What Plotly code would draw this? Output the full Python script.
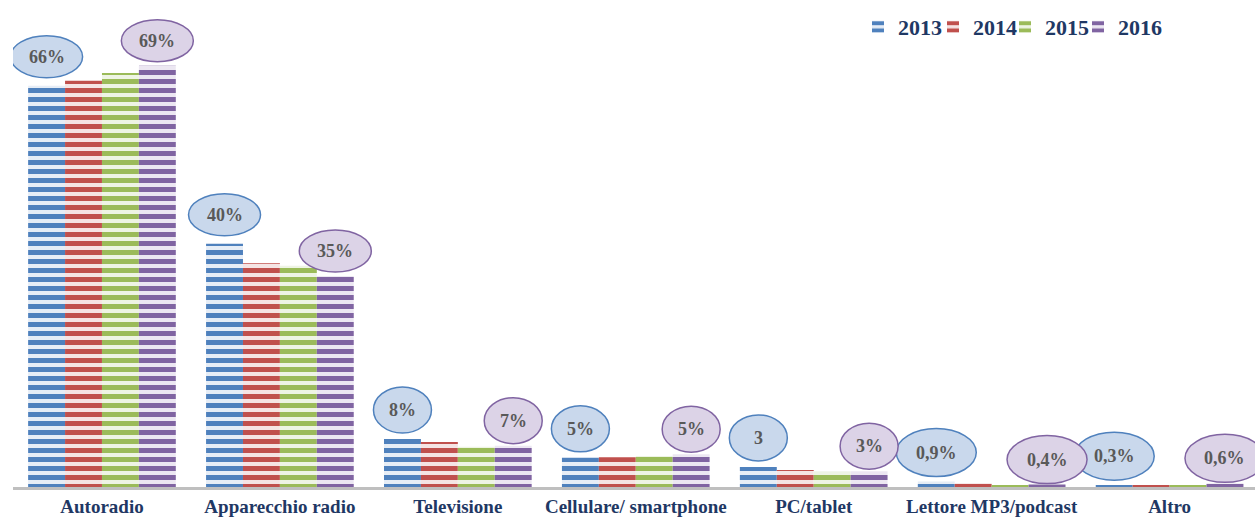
import plotly.graph_objects as go

categories = ["Autoradio", "Apparecchio radio", "Televisione", "Cellulare/ smartphone",
              "PC/tablet", "Lettore MP3/podcast", "Altro"]
years = ["2013", "2014", "2015", "2016"]
v2013 = [66, 40, 7.9, 4.8, 3.3, 0.9, 0.3]
v2014 = [66.8, 36.8, 7.4, 4.9, 2.8, 0.6, 0.2]
v2015 = [68.1, 36.4, 6.6, 5.1, 2.6, 0.3, 0.2]
v2016 = [69.3, 34.7, 6.8, 5.4, 2.6, 0.4, 0.6]
values = [v2013, v2014, v2015, v2016]

labels2013 = ["66%", "40%", "8%", "5%", "3", "0,9%", "0,3%"]
labels2016 = ["69%", "35%", "7%", "5%", "3%", "0,4%", "0,6%"]

colors = ["#4F81BD", "#C0504D", "#9BBB59", "#8064A2"]
bgcolors = ["#E6EDF6", "#F5E4E4", "#EEF4E4", "#ECE7F2"]
legend_x_px = [858, 933, 1005, 1078]
legend_y_px = 27

BARGAP = 0.17
n_series = len(years)
bar_w = (1 - BARGAP) / n_series
W, H = 1255, 518
ML, MR, MT, MB = 13, 0, 5, 31
PX_PER_UNIT = 456 / 75

fig = go.Figure()
xs = list(range(len(categories)))
legend_ids = ["legend", "legend2", "legend3", "legend4"]
for i, y in enumerate(years):
    fig.add_trace(go.Bar(
        x=xs, y=values[i], name=y, legend=legend_ids[i], showlegend=True,
        marker=dict(color=colors[i], line=dict(width=0),
                    pattern=dict(shape="-", fillmode="replace", fgcolor=colors[i],
                                 bgcolor=bgcolors[i], size=9, solidity=0.55)),
    ))

shapes = []
annotations = []
label_sets = [(0, labels2013, "#4F81BD", "#C9D8EC", -29),
              (3, labels2016, "#8064A2", "#DCD3E7", -25)]
for si, labs, lc, fc, yshift in label_sets:
    off = (si - (n_series - 1) / 2) * bar_w
    for ci, lab in enumerate(labs):
        xc = ci + off
        yv = values[si][ci]
        w = 72 if len(lab) == 3 else (58 if len(lab) <= 2 else 80)
        h = 42 if len(lab) == 3 else (46 if len(lab) <= 2 else 48)
        shapes.append(dict(type="circle", xref="x", yref="y", xsizemode="pixel",
                           ysizemode="pixel", xanchor=xc, yanchor=yv,
                           x0=-w / 2, x1=w / 2, y0=-yshift - h / 2, y1=-yshift + h / 2,
                           fillcolor=fc, line=dict(color=lc, width=1.5), layer="above"))
        annotations.append(dict(x=xc, y=yv, xref="x", yref="y", text=lab, showarrow=False,
                                yshift=-yshift, font=dict(family="Liberation Serif", size=18,
                                                          color="#595959", weight="bold")))

plot_w = W - ML - MR
plot_h = H - MT - MB
y_max = plot_h / PX_PER_UNIT
legend_font = dict(family="Liberation Serif", size=22, color="#1F3864", weight="bold")
legends = {}
for i, lid in enumerate(legend_ids):
    legends[lid] = dict(orientation="h", x=(legend_x_px[i] - ML) / plot_w, xanchor="left",
                        y=1 - (legend_y_px - MT) / plot_h, yanchor="middle", font=legend_font,
                        itemclick=False, itemdoubleclick=False, bgcolor="rgba(0,0,0,0)")

fig.update_layout(
    width=W, height=H, showlegend=True,
    margin=dict(l=ML, r=MR, t=MT, b=MB, autoexpand=False),
    paper_bgcolor="white", plot_bgcolor="white",
    barmode="group", bargap=BARGAP, bargroupgap=0,
    shapes=shapes, annotations=annotations,
    xaxis=dict(tickmode="array", tickvals=xs, ticktext=categories, range=[-0.5, 6.48],
               showline=True, linecolor="#BFBFBF", linewidth=3, showgrid=False,
               zeroline=False, ticks="",
               tickfont=dict(family="Liberation Serif", size=19, color="#1F3864", weight="bold")),
    yaxis=dict(range=[0, y_max], visible=False, showgrid=False),
    **legends,
)

fig.write_html("out.html", config={"displayModeBar": False},
               post_script="document.body.style.margin='0';document.body.style.overflow='hidden';")
